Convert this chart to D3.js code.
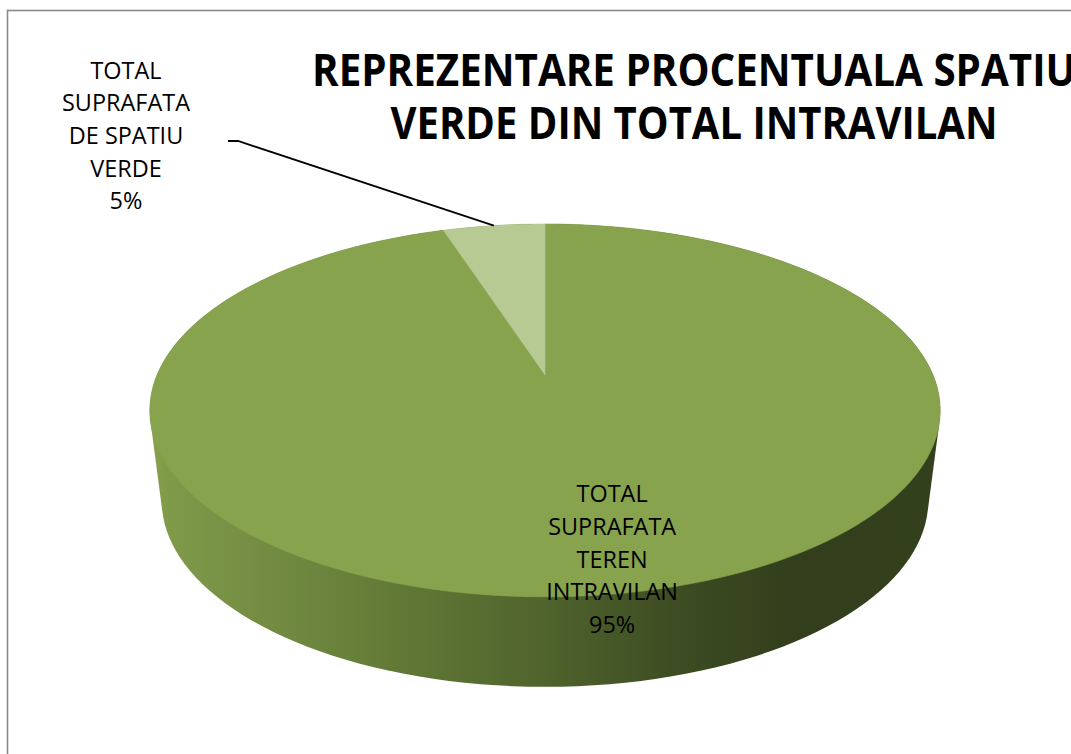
<!DOCTYPE html>
<html>
<head>
<meta charset="utf-8">
<script src="https://cdn.jsdelivr.net/npm/d3@7"></script>
<style>
  body { margin: 0; background: #fff; }
  svg { display: block; }
  text { font-family: "Open Sans", "DejaVu Sans", sans-serif; fill: #000; }
</style>
</head>
<body>
<svg id="pieChart" width="1071" height="754"></svg>
<script>
/*********************************************
    * Spatiu verde din total intravilan
*********************************************/

var categories = ["TOTAL SUPRAFATA TEREN INTRAVILAN", "TOTAL SUPRAFATA DE SPATIU VERDE"];
var values = [95, 5];
var labelLines = [["TOTAL", "SUPRAFATA", "TEREN", "INTRAVILAN"],
                  ["TOTAL", "SUPRAFATA", "DE SPATIU", "VERDE"]];
var titleLines = ["REPREZENTARE PROCENTUALA SPATIU", "VERDE DIN TOTAL INTRAVILAN"];

var pieData = categories.map(function(c, i) { return {name: c, value: values[i], lines: labelLines[i]}; });

var svg = d3.select("#pieChart");

// 3d look: top face is a circle seen in perspective, wall hangs under it
var cx = 545, cy = 375, rx = 388, ry = 179.7, persp = 0.19,
    wallDepth = 90, wallShrink = 0.97;

function proj(a, r) {
    var u = r * Math.sin(a), v = -r * Math.cos(a), d = 1 - persp * v;
    return [cx + rx * u / d, cy + ry * v / d];
}
function projBottom(a) {
    var p = proj(a, 1);
    return [cx + (p[0] - cx) * wallShrink, p[1] + wallDepth];
}

var color = d3.scaleOrdinal().domain(categories).range(["#87a34d", "#b8ca94"]);
var pct = d3.format(".0%");
var total = d3.sum(values);

var pie = d3.pie().sort(null).value(function(d) { return d.value; });
var arcs = pie(pieData);

// chart border
svg.append("rect")
    .attr("x", 7.5).attr("y", 10.5)
    .attr("width", 1200).attr("height", 900)
    .attr("fill", "none")
    .attr("stroke", "#8a8a8a")
    .attr("stroke-width", 1.6);

// wall gradient (lit from the left)
var grad = svg.append("defs").append("linearGradient")
    .attr("id", "wallGrad")
    .attr("gradientUnits", "userSpaceOnUse")
    .attr("x1", cx - rx * 1.02).attr("x2", cx + rx * 1.02)
    .attr("y1", 0).attr("y2", 0);
[[0, "#88a34f"], [0.025, "#7e9a49"], [0.12, "#768f44"], [0.3, "#637b37"],
 [0.5, "#4f632c"], [0.68, "#3c4b22"], [0.82, "#323e1c"], [1, "#34411d"]]
    .forEach(function(s) {
        grad.append("stop").attr("offset", s[0]).attr("stop-color", s[1]);
    });

// wall = hull of top and bottom outlines
var pts = [];
d3.range(0, 361, 2).forEach(function(deg) {
    var a = deg * Math.PI / 180;
    pts.push(proj(a, 1));
    pts.push(projBottom(a));
});
svg.append("path")
    .attr("class", "wall")
    .attr("d", "M" + d3.polygonHull(pts).join("L") + "Z")
    .attr("fill", "url(#wallGrad)");

// top face slices
svg.selectAll(".slice")
    .data(arcs)
    .enter().append("path")
    .attr("class", "slice")
    .attr("d", function(d) {
        var n = Math.max(4, Math.ceil((d.endAngle - d.startAngle) * 60));
        var p = [proj(0, 0)];
        for (var i = 0; i <= n; i++) {
            p.push(proj(d.startAngle + (d.endAngle - d.startAngle) * i / n, 1));
        }
        return "M" + p.join("L") + "Z";
    })
    .attr("fill", function(d) { return color(d.data.name); })
    .attr("stroke", function(d) { return color(d.data.name); })
    .attr("stroke-width", 0.6);

// title
var titleY = [86, 139], titleW = [764, 607];
svg.selectAll(".title")
    .data(titleLines)
    .enter().append("text")
    .attr("class", "title")
    .attr("x", 694)
    .attr("y", function(d, i) { return titleY[i]; })
    .attr("text-anchor", "middle")
    .attr("font-size", 45)
    .attr("font-weight", "bold")
    .attr("textLength", function(d, i) { return titleW[i]; })
    .attr("lengthAdjust", "spacingAndGlyphs")
    .text(function(d) { return d; });

// data labels
var lineH = 32.7, fontSize = 23.5, targetW = 128;

function addLabel(d, x, yFirst) {
    var lines = d.data.lines.concat([pct(d.data.value / total)]);
    var g = svg.append("g").attr("class", "dataLabel")
        .attr("transform", "translate(" + x + "," + yFirst + ")");
    var t = g.selectAll("text").data(lines).enter().append("text")
        .attr("y", function(l, i) { return i * lineH; })
        .attr("text-anchor", "middle")
        .attr("font-size", fontSize)
        .text(function(l) { return l; });
    // squeeze to calibri-ish width
    var w = t.filter(function(l) { return l === "SUPRAFATA"; }).node().getComputedTextLength();
    t.attr("transform", "scale(" + (targetW / w) + ",1)");
}

// big slice: label inside, at mid angle
var big = arcs[0];
var mid0 = (big.startAngle + big.endAngle) / 2;
var pIn = proj(mid0, 0.87);
addLabel(big, pIn[0] + 4, pIn[1] - 2 * lineH + 8);

// small slice: label outside, with leader line
var small = arcs[1];
var mid1 = (small.startAngle + small.endAngle) / 2;
var rim = proj(mid1, 1);
svg.append("polyline")
    .attr("points", [[228, 141], [238, 141], rim].join(" "))
    .attr("fill", "none")
    .attr("stroke", "#000")
    .attr("stroke-width", 1.8);
addLabel(small, 126, 78.5);
</script>
</body>
</html>
